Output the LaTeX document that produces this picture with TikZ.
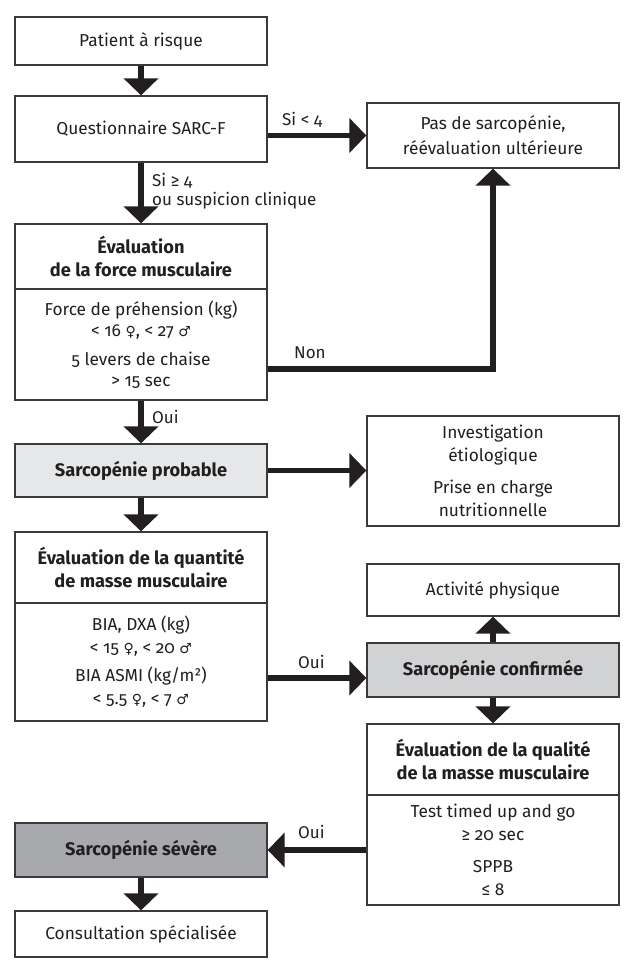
\documentclass[tikz,border=0pt]{standalone}
\usepackage{fontspec}
\setmainfont{Fira Sans}[Numbers=OldStyle]
\newfontfamily\symfont{DejaVu Sans}
\usetikzlibrary{arrows.meta}
\definecolor{txt}{HTML}{231F20}
\definecolor{bord}{HTML}{3A3A3A}
\definecolor{gA}{HTML}{E6E7E8}
\definecolor{gB}{HTML}{D1D2D4}
\definecolor{gC}{HTML}{A7A9AC}
\newcommand{\fem}{{\symfont\fontsize{14}{14}\selectfont ♀}}
\newcommand{\mal}{{\symfont\fontsize{14}{14}\selectfont ♂}}
\begin{document}
\begin{tikzpicture}[x=1pt,y=-1pt,
  box/.style={draw=bord, line width=1.3pt, fill=white, inner sep=0pt, align=center,
    text=txt, minimum width=252pt, font=\fontsize{17.3}{23}\selectfont},
  hdr/.style={box, font=\fontsize{18.2}{23}\selectfont\bfseries},
  arr/.style={line width=5.5pt, draw=txt, -{Triangle[width=34pt,length=17pt]}},
  lbl/.style={text=txt, inner sep=0pt, font=\fontsize{17}{19}\selectfont, align=left}]
\useasboundingbox (0,0) rectangle (624,969);
\fill[white] (0,0) rectangle (624,969);
% left column
\node[box, minimum height=48pt] (patient) at (141,41) {Patient à risque};
\node[box, minimum height=66pt] (sarcf) at (141,129) {Questionnaire SARC-F};
\node[hdr, minimum height=65pt] (forceH) at (141,256.5) {Évaluation\\de la force musculaire};
\node[box, minimum height=111pt, font=\fontsize{17.3}{20.5}\selectfont] (forceB) at (141,344.5)
  {Force de préhension (kg)\\< 16 \fem, < 27 \mal\\[9pt]5 levers de chaise\\> 15 sec};
\node[hdr, fill=gA, minimum height=53pt] (probable) at (141,470.5) {Sarcopénie probable};
\node[hdr, minimum height=71pt] (masseH) at (141,567.5) {Évaluation de la quantité\\de masse musculaire};
\node[box, minimum height=118pt] (masseB) at (141,662)
  {BIA, DXA (kg)\\< 15 \fem, < 20 \mal\\[5pt]BIA ASMI (kg/m²)\\< 5.5 \fem, < 7 \mal};
\node[hdr, fill=gC, minimum height=54pt] (severe) at (141,850) {Sarcopénie sévère};
\node[box, minimum height=46pt] (consult) at (141,934) {Consultation spécialisée};
% right column
\node[box, minimum height=65pt, font=\fontsize{17.3}{25}\selectfont] (pas) at (493,135.5) {Pas de sarcopénie,\\réévaluation ultérieure};
\node[box, minimum height=110pt] (invest) at (493,471) {Investigation\\étiologique\\[9pt]Prise en charge\\nutritionnelle};
\node[box, minimum height=52pt] (activ) at (493,590) {Activité physique};
\node[hdr, fill=gB, minimum height=54pt] (confirm) at (493,670) {Sarcopénie confirmée};
\node[hdr, minimum height=71pt] (qualH) at (493,759.5) {Évaluation de la qualité\\de la masse musculaire};
\node[box, minimum height=110pt] (qualB) at (493,850) {Test timed up and go\\≥ 20 sec\\[9pt]SPPB\\≤ 8};
% helper coordinates
\coordinate (nony) at (0,369);
\coordinate (ouiy) at (0,678);
% connectors
\draw[arr] (patient) -- (sarcf);
\draw[arr] (sarcf) -- (forceH);
\draw[arr] (sarcf.east |- pas.west) -- (pas.west);
\draw[arr] (forceB.east |- nony) -| (pas.south);
\draw[arr] (forceB) -- (probable);
\draw[arr] (probable.east) -- (probable.east -| invest.west);
\draw[arr] (probable) -- (masseH);
\draw[arr] (masseB.east |- ouiy) -- (confirm.west |- ouiy);
\draw[arr] (confirm) -- (activ);
\draw[arr] (confirm) -- (qualH);
\draw[arr] (qualB.west) -- (severe.east);
\draw[arr] (severe) -- (consult);
% labels
\node[lbl, anchor=west] (l1) at (282,120) {Si < 4};
\node[lbl, anchor=north west] (l2) at (152,173) {Si ≥ 4\\ou suspicion clinique};
\node[lbl, anchor=west] (l3) at (294,353) {Non};
\node[lbl, anchor=west] (l4) at (152,417) {Oui};
\node[lbl, anchor=west] (l5) at (298,662) {Oui};
\node[lbl, anchor=west] (l6) at (298,832) {Oui};
\end{tikzpicture}
\end{document}
